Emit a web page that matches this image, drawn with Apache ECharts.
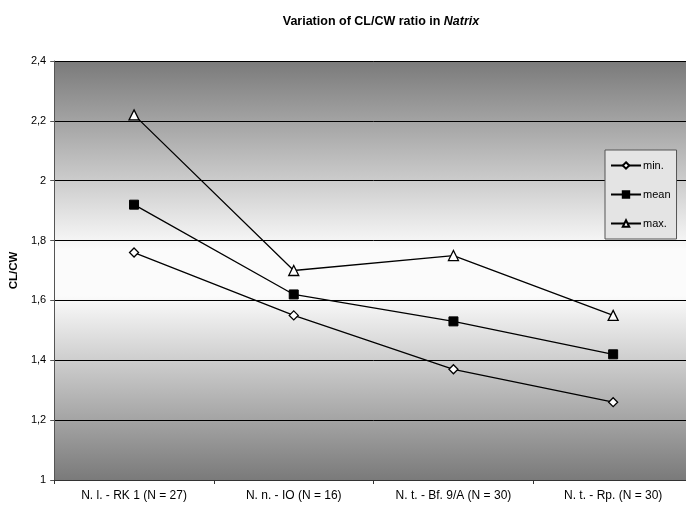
<!DOCTYPE html>
<html><head><meta charset="utf-8">
<script src="https://cdn.jsdelivr.net/npm/echarts@6/dist/echarts.min.js"></script>
<style>html,body{margin:0;padding:0;background:#fff;overflow:hidden}#c{width:700px;height:509px}</style>
</head><body><div id="c"></div>
<script>
const categories = ['N. l. - RK 1 (N = 27)', 'N. n. - IO (N = 16)', 'N. t. - Bf. 9/A (N = 30)', 'N. t. - Rp. (N = 30)'];
const minValues = [1.76, 1.55, 1.37, 1.26];
const meanValues = [1.92, 1.62, 1.53, 1.42];
const maxValues = [2.22, 1.70, 1.75, 1.55];
const yTicks = [1, 1.2, 1.4, 1.6, 1.8, 2, 2.2, 2.4];

const chart = echarts.init(document.getElementById('c'), null, {renderer: 'canvas'});
const FONT = 'Liberation Sans, Arial, sans-serif';
const fmt = v => String(Math.round(v * 10) / 10).replace('.', ',');
const lineStyle = {color: '#000', width: 1.3};
chart.setOption({
  animation: false,
  backgroundColor: '#fff',
  title: {
    text: '{b|Variation of CL/CW ratio in }{i|Natrix}',
    left: 376, top: 10, textAlign: 'center',
    textStyle: {rich: {
      b: {fontFamily: FONT, fontWeight: 'bold', fontSize: 12.5, color: '#000'},
      i: {fontFamily: FONT, fontWeight: 'bold', fontStyle: 'italic', fontSize: 12.5, color: '#000'}
    }}
  },
  legend: {
    left: 605, top: 150, orient: 'vertical', itemGap: 18,
    width: 72, height: 97,
    padding: [10, 6, 10, 5],
    backgroundColor: '#e4e4e4', borderColor: '#555', borderWidth: 1,
    itemWidth: 30, itemHeight: 8,
    textStyle: {fontFamily: FONT, fontSize: 11, color: '#000', padding: [0, 0, 0, -3]},
    data: ['min.', 'mean', 'max.']
  },
  grid: {
    left: 53, top: 61, width: 640, height: 419,
    show: true, borderWidth: 0,
    backgroundColor: {
      type: 'linear', x: 0, y: 0, x2: 0, y2: 1,
      colorStops: [
        {offset: 0, color: '#7a7a7a'},
        {offset: 0.45, color: '#fbfbfb'},
        {offset: 0.56, color: '#fbfbfb'},
        {offset: 1, color: '#7a7a7a'}
      ]
    }
  },
  xAxis: {
    type: 'category', data: categories, boundaryGap: true,
    axisLine: {lineStyle: {color: '#333', width: 1}},
    axisTick: {show: true, length: 4, lineStyle: {color: '#333'}},
    axisLabel: {fontFamily: FONT, fontSize: 12, color: '#000', margin: 10}
  },
  yAxis: {
    type: 'value', min: 1, max: 2.4, interval: 0.2,
    name: 'CL/CW', nameLocation: 'middle', nameGap: 32, nameRotate: 90,
    nameTextStyle: {fontFamily: FONT, fontWeight: 'bold', fontSize: 11.5, color: '#000'},
    axisLine: {show: true, lineStyle: {color: '#555', width: 1}},
    axisTick: {show: true, length: 4, lineStyle: {color: '#555'}},
    axisLabel: {fontFamily: FONT, fontSize: 11, color: '#000', margin: 8, formatter: fmt},
    splitLine: {show: true, lineStyle: {color: '#000', width: 1}}
  },
  series: [
    {name: 'min.', type: 'line', data: minValues, symbol: 'diamond', symbolSize: 9,
     lineStyle, itemStyle: {color: '#fff', borderColor: '#000', borderWidth: 1.3}},
    {name: 'mean', type: 'line', data: meanValues, symbol: 'rect', symbolSize: 9,
     lineStyle, itemStyle: {color: '#000', borderColor: '#000', borderWidth: 1}},
    {name: 'max.', type: 'line', data: maxValues, symbol: 'triangle', symbolSize: 10,
     lineStyle, itemStyle: {color: '#fff', borderColor: '#000', borderWidth: 1.3}}
  ]
});
</script></body></html>
